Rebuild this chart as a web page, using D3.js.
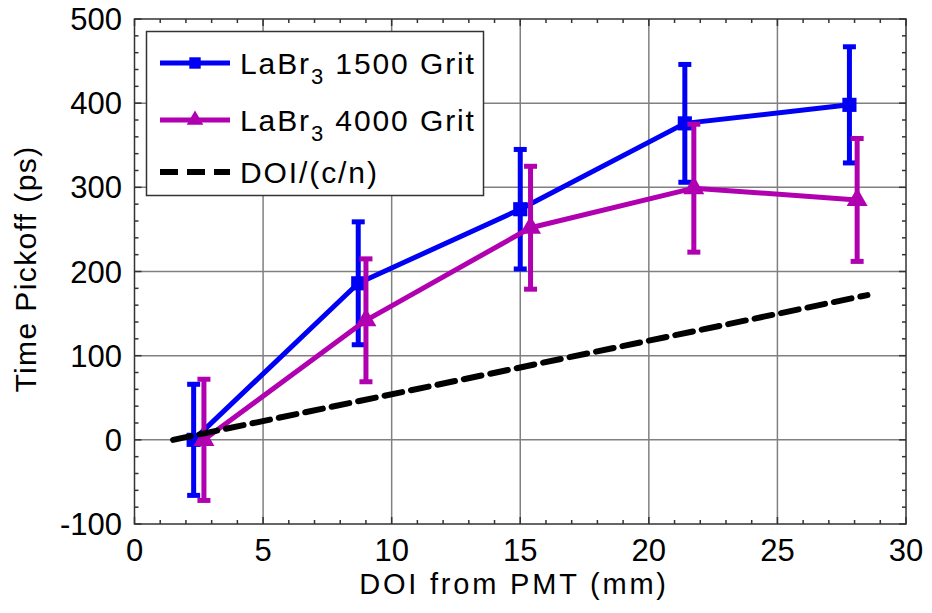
<!DOCTYPE html>
<html>
<head>
<meta charset="utf-8">
<script src="https://cdn.jsdelivr.net/npm/d3@7"></script>
<style>
  body { margin: 0; background: #fff; }
  text { font-family: "Liberation Sans", Arial, sans-serif; fill: #000; }
</style>
</head>
<body>
<script>
var width = 932, height = 613

// data
var grit1500X = [2.3, 8.7, 15.0, 21.4, 27.8]
var grit1500Y = [0, 186, 274, 376, 398]
var grit1500Err = [66, 73, 71, 70, 69]

var grit4000X = [2.7, 9.0, 15.4, 21.75, 28.1]
var grit4000Y = [0, 142, 252, 299, 285]
var grit4000Err = [72, 73, 73, 76, 73]

var doiX = [1.5, 28.5]
var doiY = [0, 172]

var xTicks = [0, 5, 10, 15, 20, 25, 30]
var yTicks = [-100, 0, 100, 200, 300, 400, 500]

var legendLabels = ["1500 Grit", "4000 Grit", "DOI/(c/n)"]

var blue = "#0000f5", magenta = "#b000b0"

var svg = d3.select("body").append("svg")
  .attr("width", width)
  .attr("height", height)

var x = d3.scaleLinear().domain([0, 30]).range([134.5, 906])
var y = d3.scaleLinear().domain([-100, 500]).range([524, 19])

// grid
var grid = svg.append("g").attr("stroke", "#808080").attr("stroke-width", 1.5)
grid.selectAll(".gx").data(xTicks.slice(1, -1)).enter().append("line")
  .attr("x1", d => x(d)).attr("x2", d => x(d))
  .attr("y1", y(-100)).attr("y2", y(500))
grid.selectAll(".gy").data(yTicks.slice(1, -1)).enter().append("line")
  .attr("y1", d => y(d)).attr("y2", d => y(d))
  .attr("x1", x(0)).attr("x2", x(30))

// inward ticks on all four sides, minor every 1 mm / 20 ps
var xMinor = d3.range(0, 30.01, 1)
var yMinor = d3.range(-100, 500.01, 20)
var ticks = svg.append("g").attr("stroke", "#333").attr("stroke-width", 1.5)
function tickLen(isMajor) { return isMajor ? 7 : 4 }
ticks.selectAll(".tb").data(xMinor).enter().append("line")
  .attr("x1", d => x(d)).attr("x2", d => x(d))
  .attr("y1", y(-100)).attr("y2", d => y(-100) - tickLen(d % 5 == 0))
ticks.selectAll(".tt").data(xMinor).enter().append("line")
  .attr("x1", d => x(d)).attr("x2", d => x(d))
  .attr("y1", y(500)).attr("y2", d => y(500) + tickLen(d % 5 == 0))
ticks.selectAll(".tl").data(yMinor).enter().append("line")
  .attr("y1", d => y(d)).attr("y2", d => y(d))
  .attr("x1", x(0)).attr("x2", d => x(0) + tickLen(d % 100 == 0))
ticks.selectAll(".tr").data(yMinor).enter().append("line")
  .attr("y1", d => y(d)).attr("y2", d => y(d))
  .attr("x1", x(30)).attr("x2", d => x(30) - tickLen(d % 100 == 0))

// frame
svg.append("rect")
  .attr("x", x(0)).attr("y", y(500))
  .attr("width", x(30) - x(0)).attr("height", y(-100) - y(500))
  .attr("fill", "none").attr("stroke", "#333").attr("stroke-width", 1.5)

// tick labels
svg.append("g").selectAll("text").data(xTicks).enter().append("text")
  .attr("x", d => x(d)).attr("y", 561)
  .attr("text-anchor", "middle").attr("font-size", 31)
  .text(d => d)
svg.append("g").selectAll("text").data(yTicks).enter().append("text")
  .attr("x", 122).attr("y", d => y(d) + 11)
  .attr("text-anchor", "end").attr("font-size", 31)
  .text(d => d)

// axis titles
svg.append("text")
  .attr("x", 514).attr("y", 594)
  .attr("text-anchor", "middle").attr("font-size", 29)
  .attr("letter-spacing", 2.8)
  .text("DOI from PMT (mm)")
svg.append("text")
  .attr("transform", "translate(36,269) rotate(-90)")
  .attr("text-anchor", "middle").attr("font-size", 30)
  .attr("letter-spacing", 1.4)
  .text("Time Pickoff (ps)")

// series
function drawSeries(xs, ys, errs, color, marker) {
  var pts = xs.map((d, i) => ({x: d, y: ys[i], e: errs[i]}))
  var g = svg.append("g")
  g.append("path").datum(pts)
    .attr("fill", "none").attr("stroke", color).attr("stroke-width", 5)
    .attr("stroke-linejoin", "round")
    .attr("d", d3.line().x(d => x(d.x)).y(d => y(d.y)))
  var eb = g.selectAll(".eb").data(pts).enter().append("g")
    .attr("stroke", color).attr("stroke-width", 5)
  eb.append("line")
    .attr("x1", d => x(d.x)).attr("x2", d => x(d.x))
    .attr("y1", d => y(d.y - d.e)).attr("y2", d => y(d.y + d.e))
  eb.append("line")
    .attr("x1", d => x(d.x) - 6.5).attr("x2", d => x(d.x) + 6.5)
    .attr("y1", d => y(d.y + d.e)).attr("y2", d => y(d.y + d.e))
  eb.append("line")
    .attr("x1", d => x(d.x) - 6.5).attr("x2", d => x(d.x) + 6.5)
    .attr("y1", d => y(d.y - d.e)).attr("y2", d => y(d.y - d.e))
  g.selectAll(".mk").data(pts).enter().append("path")
    .attr("transform", d => "translate(" + x(d.x) + "," + y(d.y) + ")")
    .attr("fill", color)
    .attr("d", marker)
}
var squareMk = d3.symbol().type(d3.symbolSquare).size(200)()
var triMk = d3.symbol().type(d3.symbolTriangle).size(190)()

drawSeries(grit1500X, grit1500Y, grit1500Err, blue, squareMk)
drawSeries(grit4000X, grit4000Y, grit4000Err, magenta, triMk)

svg.append("path").datum(doiX.map((d, i) => [d, doiY[i]]))
  .attr("fill", "none").attr("stroke", "#000").attr("stroke-width", 6)
  .attr("stroke-dasharray", "18,9").attr("stroke-linecap", "round")
  .attr("d", d3.line().x(d => x(d[0])).y(d => y(d[1])))

// legend
var lg = svg.append("g")
lg.append("rect")
  .attr("x", 146.5).attr("y", 31.5).attr("width", 337).attr("height", 164)
  .attr("fill", "#fff").attr("stroke", "#333").attr("stroke-width", 1.5)
var rowY = [63, 120, 172]
var lgColors = [blue, magenta, "#000"]
var lgMarkers = [d3.symbol().type(d3.symbolSquare).size(130)(), d3.symbol().type(d3.symbolTriangle).size(120)(), null]
rowY.forEach(function(ry, i) {
  lg.append("line")
    .attr("x1", 160).attr("x2", 230).attr("y1", ry).attr("y2", ry)
    .attr("stroke", lgColors[i]).attr("stroke-width", i == 2 ? 6 : 5)
    .attr("stroke-dasharray", i == 2 ? "18,9" : null)
  if (lgMarkers[i]) {
    lg.append("path").attr("transform", "translate(195," + ry + ")")
      .attr("fill", lgColors[i]).attr("d", lgMarkers[i])
  }
  var t = lg.append("text").attr("x", 240).attr("y", ry + 11)
    .attr("font-size", 30).attr("letter-spacing", 1.9)
  if (i < 2) {
    t.append("tspan").text("LaBr")
    t.append("tspan").attr("font-size", 22).attr("dy", 10).text("3")
    t.append("tspan").attr("dy", -10).text(" " + legendLabels[i])
  } else {
    t.text(legendLabels[i])
  }
})
</script>
</body>
</html>
